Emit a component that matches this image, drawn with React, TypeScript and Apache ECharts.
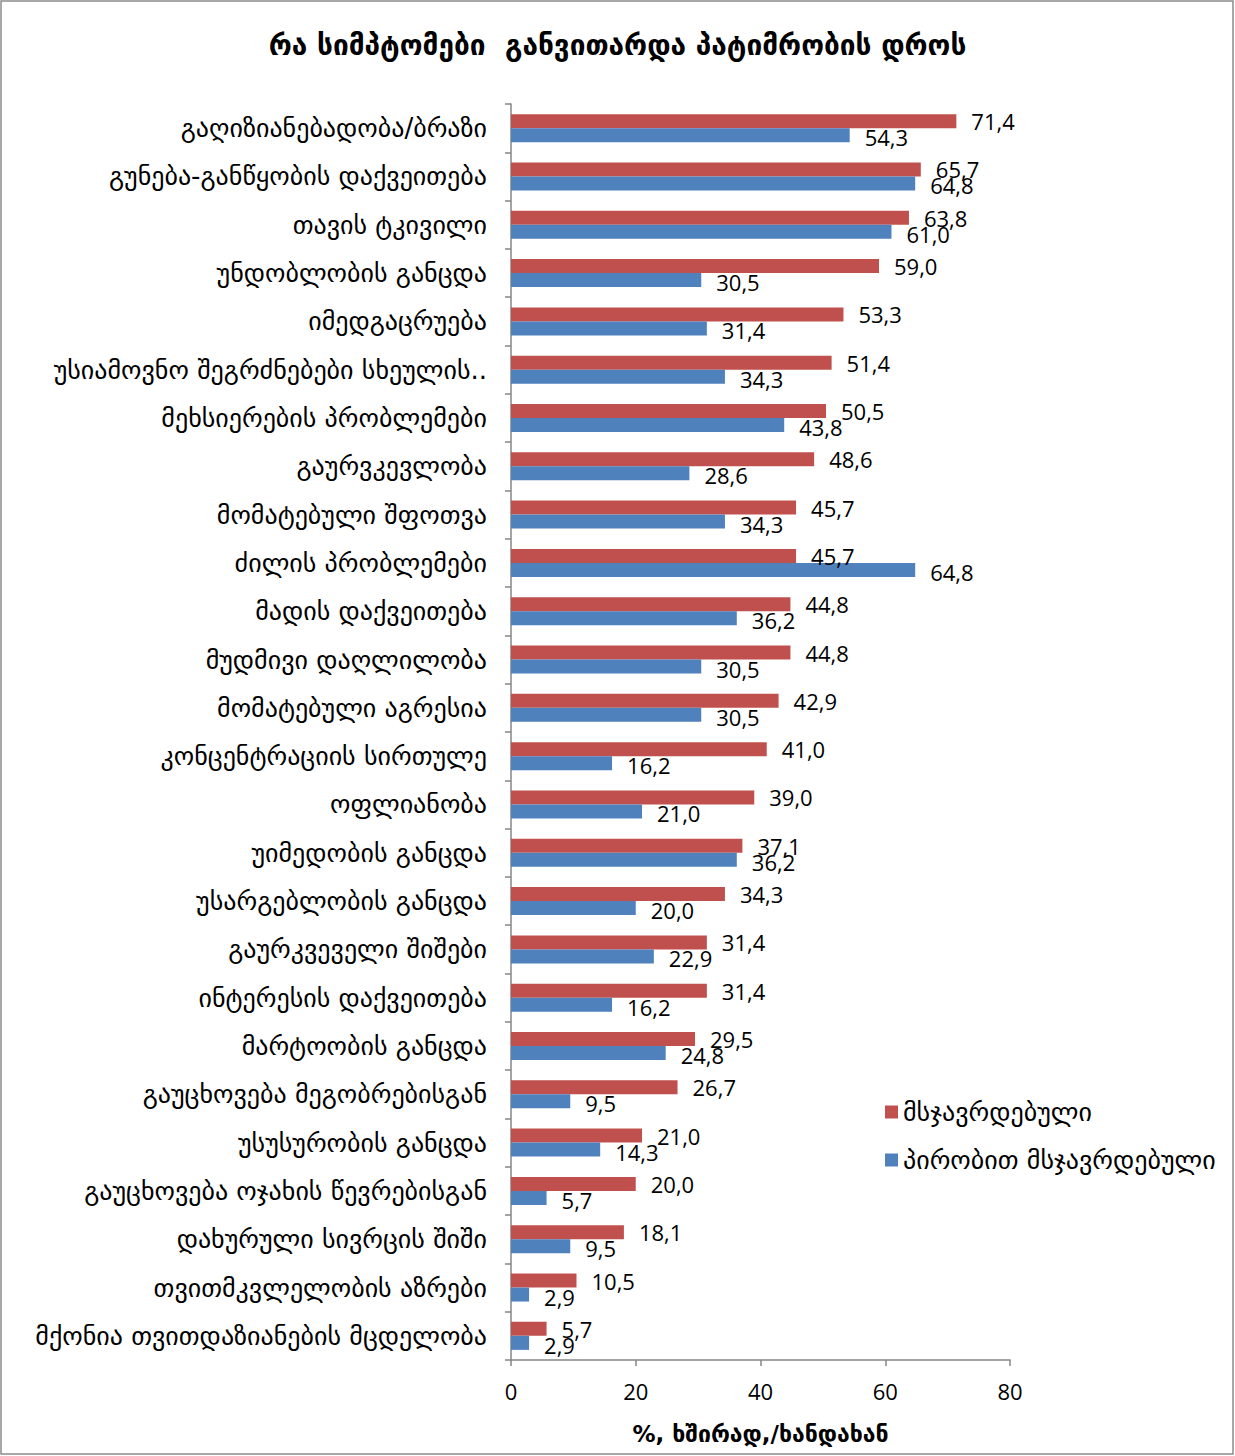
import React, { useEffect, useRef } from "react";
import * as echarts from "echarts";

const categories = [
  "გაღიზიანებადობა/ბრაზი",
  "გუნება-განწყობის დაქვეითება",
  "თავის ტკივილი",
  "უნდობლობის განცდა",
  "იმედგაცრუება",
  "უსიამოვნო შეგრძნებები სხეულის..",
  "მეხსიერების პრობლემები",
  "გაურვკევლობა",
  "მომატებული შფოთვა",
  "ძილის პრობლემები",
  "მადის დაქვეითება",
  "მუდმივი დაღლილობა",
  "მომატებული აგრესია",
  "კონცენტრაციის სირთულე",
  "ოფლიანობა",
  "უიმედობის განცდა",
  "უსარგებლობის განცდა",
  "გაურკვეველი შიშები",
  "ინტერესის დაქვეითება",
  "მარტოობის განცდა",
  "გაუცხოვება მეგობრებისგან",
  "უსუსურობის განცდა",
  "გაუცხოვება ოჯახის წევრებისგან",
  "დახურული სივრცის შიში",
  "თვითმკვლელობის აზრები",
  "მქონია თვითდაზიანების მცდელობა",
];

const convicted = [
  71.4, 65.7, 63.8, 59.0, 53.3, 51.4, 50.5, 48.6, 45.7, 45.7, 44.8, 44.8, 42.9,
  41.0, 39.0, 37.1, 34.3, 31.4, 31.4, 29.5, 26.7, 21.0, 20.0, 18.1, 10.5, 5.7,
];

const probation = [
  54.3, 64.8, 61.0, 30.5, 31.4, 34.3, 43.8, 28.6, 34.3, 64.8, 36.2, 30.5, 30.5,
  16.2, 21.0, 36.2, 20.0, 22.9, 16.2, 24.8, 9.5, 14.3, 5.7, 9.5, 2.9, 2.9,
];

const seriesNames = ["მსჯავრდებული", "პირობით მსჯავრდებული"];
const title = "რა სიმპტომები  განვითარდა პატიმრობის დროს";
const xAxisName = "%, ხშირად,/ხანდახან";

const GEO = "'DejaVu Sans', 'Noto Sans', sans-serif";
const NUM = "'Open Sans', 'Liberation Sans', sans-serif";

export default function App() {
  const ref = useRef<HTMLDivElement>(null);
  useEffect(() => {
    if (!ref.current) return;
    const chart = echarts.init(ref.current, null, { renderer: "svg" });
    const fmt = (p: any) => Number(p.value).toFixed(1).replace(".", ",");
    chart.setOption({
      animation: false,
      backgroundColor: "#ffffff",
      title: {
        text: title,
        left: "center",
        top: 26,
        textStyle: {
          fontFamily: GEO,
          fontSize: 28,
          fontWeight: "bold",
          color: "#000",
        },
      },
      graphic: [
        {
          type: "rect",
          shape: { x: 1, y: 1, width: 1232, height: 1453 },
          style: { fill: "none", stroke: "#8c8c8c", lineWidth: 1.5 },
          silent: true,
        },
      ],
      legend: {
        orient: "vertical",
        left: 880,
        top: 1094,
        itemWidth: 13,
        itemHeight: 13,
        itemGap: 22,
        icon: "rect",
        textStyle: { fontFamily: GEO, fontSize: 26, color: "#000" },
        data: seriesNames,
      },
      grid: { left: 511, right: 225, top: 104, bottom: 96, containLabel: false },
      xAxis: {
        type: "value",
        min: 0,
        max: 80,
        interval: 20,
        name: xAxisName,
        nameLocation: "middle",
        nameGap: 62,
        nameTextStyle: {
          fontFamily: GEO,
          fontSize: 23,
          fontWeight: "bold",
          color: "#000",
        },
        axisLine: { show: true, lineStyle: { color: "#868686", width: 1.5 } },
        axisTick: { show: true, length: 6, lineStyle: { color: "#868686", width: 1.5 } },
        splitLine: { show: false },
        axisLabel: { margin: 20, fontFamily: NUM, fontSize: 22, color: "#000" },
      },
      yAxis: {
        type: "category",
        inverse: true,
        data: categories,
        axisLine: { show: true, lineStyle: { color: "#868686", width: 1.5 } },
        axisTick: { show: true, length: 6, lineStyle: { color: "#868686", width: 1.5 } },
        axisLabel: {
          margin: 24,
          fontFamily: GEO,
          fontSize: 26,
          color: "#000",
          interval: 0,
        },
      },
      series: [
        {
          name: seriesNames[0],
          type: "bar",
          data: convicted,
          barGap: "0%",
          barCategoryGap: "42%",
          itemStyle: { color: "#C0504D" },
          label: {
            show: true,
            position: "right",
            distance: 15,
            formatter: fmt,
            fontFamily: NUM,
            fontSize: 22,
            color: "#000",
            offset: [0, 0],
          },
        },
        {
          name: seriesNames[1],
          type: "bar",
          data: probation,
          itemStyle: { color: "#4F81BD" },
          label: {
            show: true,
            position: "right",
            distance: 15,
            formatter: fmt,
            fontFamily: NUM,
            fontSize: 22,
            color: "#000",
            offset: [0, 2],
          },
        },
      ],
    });
    return () => chart.dispose();
  }, []);
  return (
    <div
      ref={ref}
      style={{ position: "fixed", left: 0, top: 0, width: 1235, height: 1456 }}
    />
  );
}
